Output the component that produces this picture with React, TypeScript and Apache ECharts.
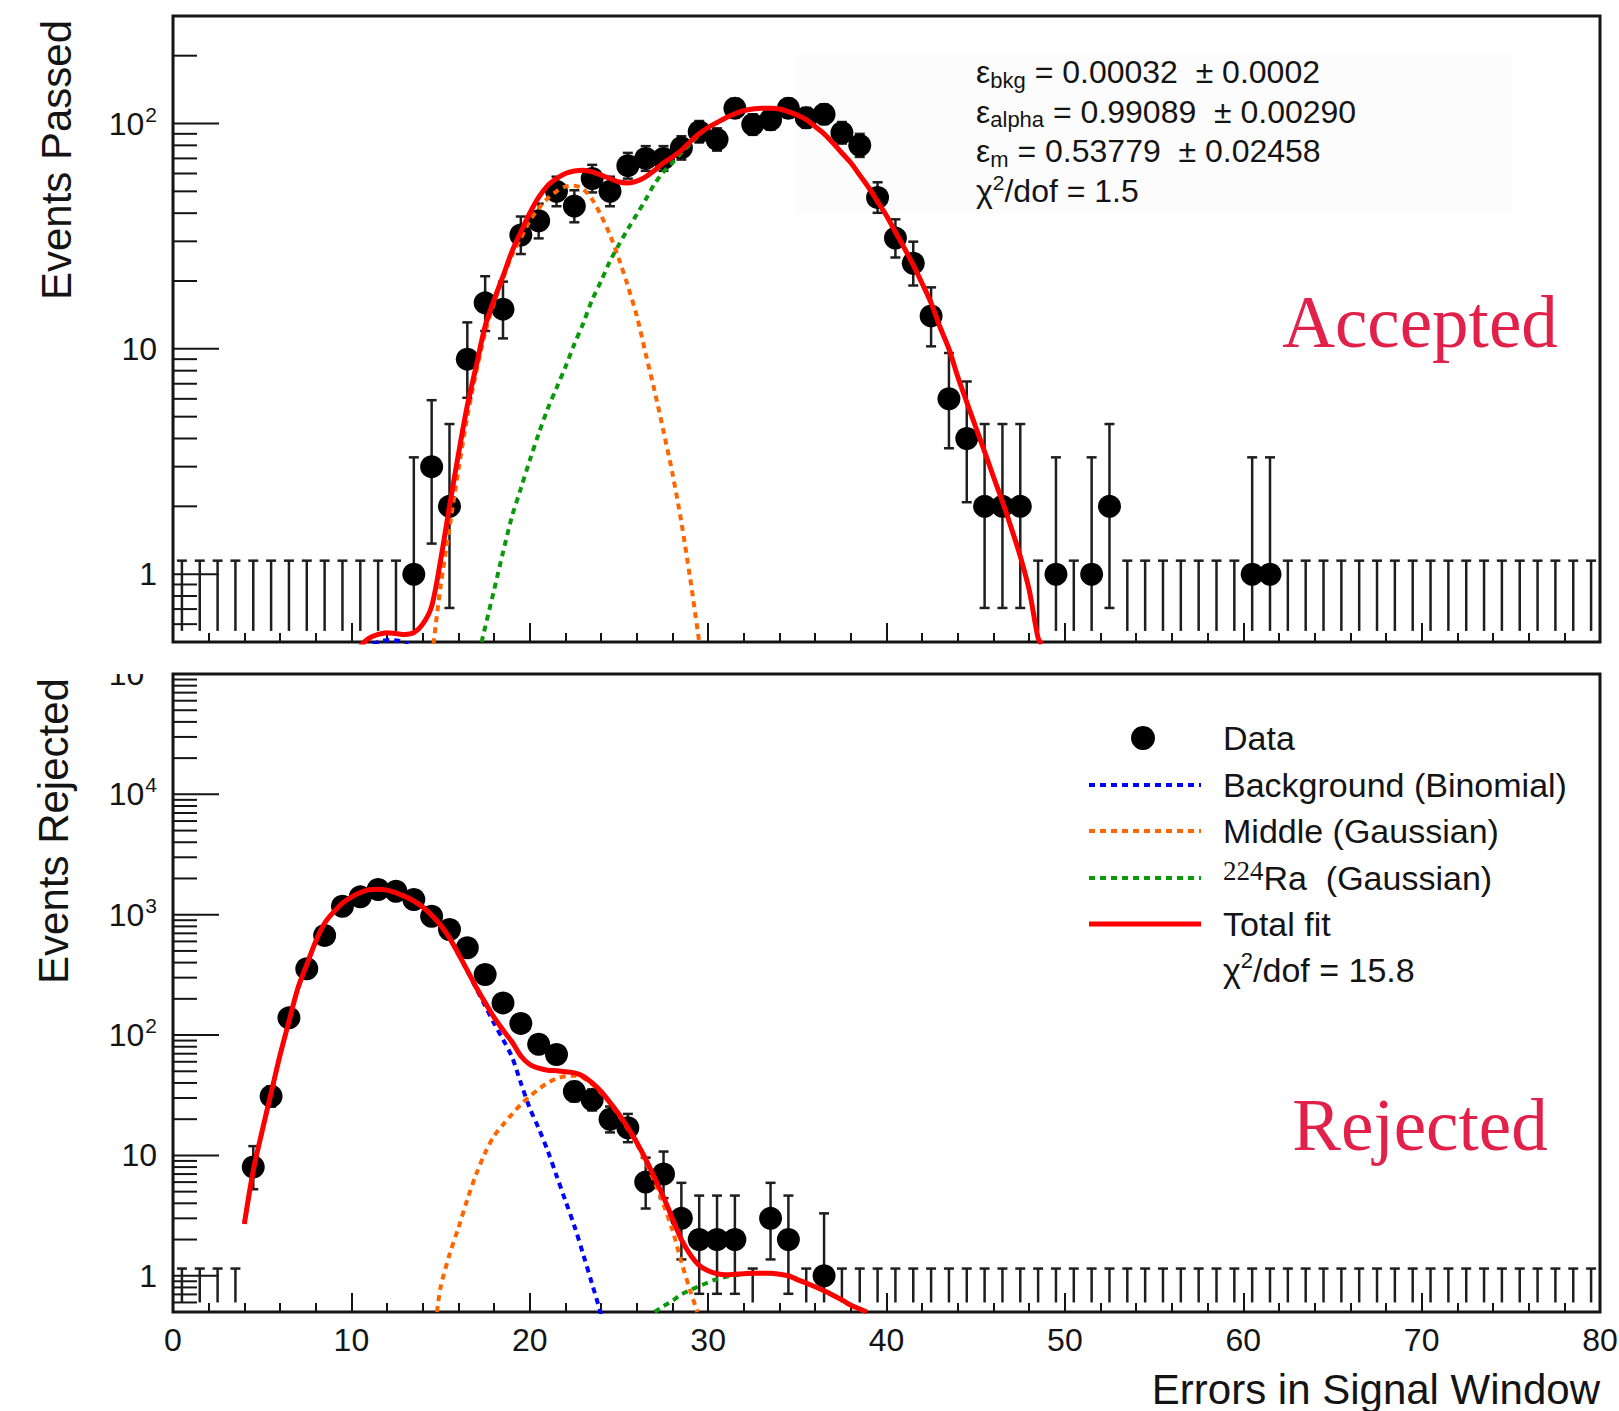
import React, { useEffect, useRef } from "react";
import * as echarts from "echarts";

// ---------------- data ----------------
const binCenters: number[] = [];
for (let i = 0; i < 80; i++) binCenters.push(i + 0.5);

const passedCounts = [
  0, 0, 0, 0, 0, 0, 0, 0, 0, 0,
  0, 0, 0, 1, 3, 2, 9, 16, 15, 32,
  37, 50, 43, 57, 50, 65, 70, 70, 78, 92,
  85, 117, 99, 104, 117, 106, 110, 91, 80, 47,
  31, 24, 14, 6, 4, 2, 2, 2, 0, 1,
  0, 1, 2, 0, 0, 0, 0, 0, 0, 0,
  1, 1, 0, 0, 0, 0, 0, 0, 0, 0,
  0, 0, 0, 0, 0, 0, 0, 0, 0, 0,
];

const rejectedCounts = [
  0, 0, 0, 0, 8, 31, 139, 356, 673, 1177,
  1407, 1618, 1567, 1336, 972, 754, 532, 319, 185, 125,
  84, 69, 34, 29, 20, 17, 6, 7, 3, 2,
  2, 2, 0, 3, 2, 0, 1, 0, 0, 0,
  0, 0, 0, 0, 0, 0, 0, 0, 0, 0,
  0, 0, 0, 0, 0, 0, 0, 0, 0, 0,
  0, 0, 0, 0, 0, 0, 0, 0, 0, 0,
  0, 0, 0, 0, 0, 0, 0, 0, 0, 0,
];

// 68% Poisson intervals for small counts (RooFit style)
const poissonLow = [0, 0.173, 0.708, 1.367, 2.086, 2.84, 3.62, 4.42, 5.236, 6.064, 6.904];
const poissonHigh = [1.148, 3.3, 4.638, 5.918, 7.163, 8.382, 9.583, 10.768, 11.942, 13.106, 14.261];

const passedBackground = [[11.2, 0.49], [11.7, 0.505], [12.2, 0.51], [12.7, 0.505], [13.2, 0.49]];
const passedMiddle = [
  [14.6, 0.49], [15, 0.88], [15.5, 1.6], [16, 2.9], [16.5, 5.0], [17, 7.9], [17.5, 11.8], [18, 16],
  [18.5, 20.5], [19, 26], [19.5, 31], [20, 37], [20.5, 42], [21, 46.5], [21.5, 50], [22, 52.5],
  [22.5, 53], [23, 51], [23.5, 46], [24, 39], [24.5, 32], [25, 25], [25.5, 19], [26, 14],
  [26.5, 9.5], [27, 6.5], [27.5, 4.3], [28, 2.8], [28.5, 1.7], [29, 0.95], [29.5, 0.5],
];
const passedRa = [
  [17.3, 0.5], [18, 0.85], [18.5, 1.25], [19, 1.8], [19.5, 2.4], [20, 3.2], [20.5, 4.2], [21, 5.4],
  [21.5, 6.7], [22, 8.3], [22.5, 10.5], [23, 13], [23.5, 16.5], [24, 20], [24.5, 24.5], [25, 29],
  [25.5, 34], [26, 39.5], [26.5, 46], [27, 54], [27.5, 61], [28, 67], [28.5, 74], [29, 81],
  [29.5, 89], [30, 96], [30.5, 101], [31, 106], [31.5, 110.5], [32, 114], [32.5, 116], [33, 117],
  [33.5, 117], [34, 116], [34.5, 113], [35, 109], [35.5, 104], [36, 97], [36.5, 90], [37, 82],
  [37.5, 74], [38, 67], [38.5, 59], [39, 52], [39.5, 45], [40, 39], [40.5, 33], [41, 28],
  [41.5, 23.5], [42, 19.5], [42.5, 16], [43, 12.5], [43.5, 10], [44, 7.5], [44.5, 5.8], [45, 4.5],
  [45.5, 3.5], [46, 2.7], [46.5, 2.1], [47, 1.6], [47.5, 1.2], [48, 0.85], [48.5, 0.52], [48.7, 0.49],
];
const passedTotal = [
  [10.5, 0.48], [11, 0.52], [11.5, 0.54], [12, 0.55], [12.5, 0.545], [13, 0.54], [13.5, 0.55], [14, 0.6],
  [14.5, 0.72], [15, 1.15], [15.5, 2.0], [16, 3.4], [16.5, 5.6], [17, 8.4], [17.5, 12.6], [18, 16.5],
  [18.5, 21], [19, 27], [19.5, 33], [20, 40], [20.5, 47], [21, 53], [21.5, 57], [22, 60],
  [22.5, 61.5], [23, 62], [23.5, 61], [24, 59], [24.5, 57], [25, 55], [25.5, 54.5], [26, 55.5],
  [26.5, 58], [27, 62], [27.5, 67], [28, 71], [28.5, 76], [29, 83], [29.5, 90], [30, 96],
  [30.5, 101], [31, 106], [31.5, 110.5], [32, 114], [32.5, 116], [33, 117], [33.5, 117], [34, 116],
  [34.5, 113], [35, 109], [35.5, 104], [36, 97], [36.5, 90], [37, 82], [37.5, 74], [38, 67],
  [38.5, 59], [39, 52], [39.5, 45], [40, 39], [40.5, 33], [41, 28], [41.5, 23.5], [42, 19.5],
  [42.5, 16], [43, 12.5], [43.5, 10], [44, 7.5], [44.5, 5.8], [45, 4.5], [45.5, 3.5], [46, 2.7],
  [46.5, 2.1], [47, 1.6], [47.5, 1.2], [48, 0.85], [48.5, 0.52], [48.7, 0.49],
];

const rejectedBackground = [
  [4, 2.7], [4.5, 7.5], [5, 16], [5.5, 33], [6, 68], [6.5, 130], [7, 245], [7.5, 385],
  [8, 600], [8.5, 850], [9, 1050], [9.5, 1250], [10, 1400], [10.5, 1530], [11, 1610], [11.5, 1630],
  [12, 1600], [12.5, 1520], [13, 1420], [13.5, 1300], [14, 1160], [14.5, 990], [15, 820], [15.5, 640],
  [16, 470], [16.5, 340], [17, 243], [17.5, 175], [18, 125], [18.5, 92], [19, 66], [19.5, 40],
  [20, 24.7], [20.5, 16.8], [21, 11], [21.5, 6.8], [22, 4.2], [22.5, 2.6], [23, 1.5], [23.5, 0.85],
  [24, 0.48],
];
const rejectedMiddle = [
  [14.8, 0.5], [15, 0.8], [15.5, 1.5], [16, 2.5], [16.5, 4.3], [17, 7], [17.5, 10.5], [18, 14.5],
  [18.5, 18], [19, 22], [19.5, 26.5], [20, 31], [20.5, 35.5], [21, 40], [21.5, 43.5], [22, 45.5],
  [22.5, 46], [23, 44], [23.5, 39], [24, 33], [24.5, 27], [25, 21.5], [25.5, 16.5], [26, 12.5],
  [26.5, 8.8], [27, 6.0], [27.5, 3.9], [28, 2.4], [28.5, 1.3], [29, 0.75], [29.4, 0.5],
];
const rejectedRa = [
  [27, 0.5], [27.5, 0.56], [28, 0.62], [28.5, 0.7], [29, 0.76], [29.5, 0.82], [30, 0.88], [30.5, 0.94],
  [31, 0.98], [31.5, 1.01], [32, 1.03], [32.5, 1.05], [33, 1.05], [33.5, 1.05], [34, 1.03], [34.5, 1.0],
  [35, 0.93], [35.5, 0.87], [36, 0.81], [36.5, 0.75], [37, 0.69], [37.5, 0.63], [38, 0.57], [38.5, 0.53],
  [38.9, 0.5],
];
const rejectedTotal = [
  [4, 2.7], [4.5, 7.5], [5, 16], [5.5, 33], [6, 68], [6.5, 130], [7, 245], [7.5, 385],
  [8, 600], [8.5, 850], [9, 1050], [9.5, 1250], [10, 1400], [10.5, 1530], [11, 1610], [11.5, 1630],
  [12, 1600], [12.5, 1520], [13, 1420], [13.5, 1300], [14, 1160], [14.5, 990], [15, 820], [15.5, 642],
  [16, 473], [16.5, 345], [17, 250], [17.5, 186], [18, 140], [18.5, 110], [19, 88], [19.5, 67],
  [20, 57], [20.5, 53], [21, 51], [21.5, 50.5], [22, 49.5], [22.5, 48.5], [23, 45.5], [23.5, 40],
  [24, 34], [24.5, 27.5], [25, 22], [25.5, 17], [26, 12.8], [26.5, 9.3], [27, 6.5], [27.5, 4.5],
  [28, 3.0], [28.5, 2.0], [29, 1.5], [29.5, 1.22], [30, 1.1], [30.5, 1.04], [31, 1.02], [31.5, 1.03],
  [32, 1.04], [32.5, 1.05], [33, 1.05], [33.5, 1.05], [34, 1.03], [34.5, 1.0], [35, 0.93], [35.5, 0.87],
  [36, 0.81], [36.5, 0.75], [37, 0.69], [37.5, 0.63], [38, 0.57], [38.5, 0.53], [38.9, 0.5],
];

const passedRange = [0.5, 300];
const rejectedRange = [0.5, 100000];
const passedBarFloor = 0.56;
const rejectedBarFloor = 0.6;

const statsLines = [
  "{m|ε}{sub|bkg}{m| = 0.00032  ± 0.0002}",
  "{m|ε}{sub|alpha}{m| = 0.99089  ± 0.00290}",
  "{m|ε}{sub|m}{m| = 0.53779  ± 0.02458}",
  "{m|χ}{sup|2}{m|/dof = 1.5}",
];
const legendLabels = [
  "{m|Data}",
  "{m|Background (Binomial)}",
  "{m|Middle (Gaussian)}",
  "{ser|224}{m|Ra  (Gaussian)}",
  "{m|Total fit}",
  "{m|χ}{sup|2}{m|/dof = 15.8}",
];

// ---------------- styles ----------------
const FONT = "'Liberation Sans', Arial, Helvetica, sans-serif";
const SERIF = "'Liberation Serif', 'Times New Roman', serif";
const INK = "#141414";
const RED = "#ff0000";
const BLUE = "#0000ff";
const ORANGE = "#ff6600";
const GREEN = "#0a990a";
const CRIMSON = "#e2214b";
const DOT = [6, 5];

function poisson(n: number): [number, number] {
  if (n <= 10) return [poissonLow[n], poissonHigh[n]];
  return [n - Math.sqrt(n), n + Math.sqrt(n) + 1];
}

function errorData(counts: number[], floor: number) {
  return counts.map((n, i) => {
    const [lo, hi] = poisson(n);
    return [binCenters[i], Math.max(lo, floor), hi, lo > floor ? 1 : 0];
  });
}

function pointData(counts: number[]) {
  const out: number[][] = [];
  counts.forEach((n, i) => {
    if (n > 0) out.push([binCenters[i], n]);
  });
  return out;
}

function logTicks(lo: number, hi: number) {
  const out: number[][] = [];
  for (let e = -1; e <= 6; e++) {
    for (let k = 1; k <= 9; k++) {
      const v = k * Math.pow(10, e);
      if (v > lo * 1.001 && v < hi * 0.999) out.push([0, v, k === 1 ? 1 : 0]);
    }
  }
  return out;
}

const renderErr = (_p: any, api: any) => {
  const x = api.value(0);
  const a = api.coord([x, api.value(1)]);
  const b = api.coord([x, api.value(2)]);
  const st = { stroke: "#1e1e1e", lineWidth: 2.5 };
  const kids: any[] = [
    { type: "line", shape: { x1: a[0], y1: a[1], x2: b[0], y2: b[1] }, style: st },
    { type: "line", shape: { x1: b[0] - 5, y1: b[1], x2: b[0] + 5, y2: b[1] }, style: st },
  ];
  if (api.value(3)) kids.push({ type: "line", shape: { x1: a[0] - 5, y1: a[1], x2: a[0] + 5, y2: a[1] }, style: st });
  return { type: "group", children: kids };
};

const renderTick = (_p: any, api: any) => {
  const p = api.coord([0, api.value(1)]);
  const len = api.value(2) ? 46 : 24;
  return { type: "line", shape: { x1: p[0], y1: p[1], x2: p[0] + len, y2: p[1] }, style: { stroke: INK, lineWidth: 2 } };
};

const logLabel = (v: number) => {
  const l = Math.log10(v);
  const e = Math.round(l);
  if (Math.abs(l - e) > 1e-6) return "";
  if (e === 0) return "{b|1}";
  if (e === 1) return "{b|10}";
  return "{b|10}{s|" + e + "}";
};

function xAxis(gi: number) {
  return {
    type: "value", gridIndex: gi, min: 0, max: 80, interval: 10,
    axisLine: { show: false }, splitLine: { show: false },
    axisTick: { show: true, inside: true, length: 19, lineStyle: { color: INK, width: 2 } },
    minorTick: { show: true, splitNumber: 5, length: 9, lineStyle: { color: INK, width: 2 } },
    axisLabel: { show: gi === 1, fontSize: 32, margin: 12, color: INK, fontFamily: FONT },
  };
}

function yAxis(gi: number, range: number[]) {
  return {
    type: "log", logBase: 10, gridIndex: gi, min: range[0], max: range[1],
    axisLine: { show: false }, axisTick: { show: false }, splitLine: { show: false }, minorTick: { show: false },
    axisLabel: {
      formatter: logLabel, margin: 16, color: INK, fontFamily: FONT,
      rich: {
        b: { fontSize: 32, fontFamily: FONT, color: INK, lineHeight: 40 },
        s: { fontSize: 21, fontFamily: FONT, color: INK, lineHeight: 10, verticalAlign: "top", padding: [0, 0, 0, 1] },
      },
    },
  };
}

function curve(data: number[][], color: string, dotted: boolean, gi: number, z: number) {
  return {
    type: "line", xAxisIndex: gi, yAxisIndex: gi, data, showSymbol: false, symbol: "none",
    smooth: 0.3, silent: true, clip: true, z,
    lineStyle: { color, width: dotted ? 4 : 5, type: dotted ? DOT : "solid", cap: "butt", opacity: 1 },
  };
}

function panelSeries(gi: number, counts: number[], floor: number, range: number[], curves: number[][][]) {
  return [
    {
      type: "custom", xAxisIndex: gi, yAxisIndex: gi, renderItem: renderTick, silent: true,
      data: logTicks(range[0], range[1]), encode: { x: 0, y: 1 }, z: 3,
    },
    {
      type: "custom", xAxisIndex: gi, yAxisIndex: gi, renderItem: renderErr, silent: true,
      data: errorData(counts, floor), encode: { x: 0, y: [1, 2] }, z: 4,
    },
    {
      type: "scatter", xAxisIndex: gi, yAxisIndex: gi, data: pointData(counts), symbol: "circle",
      symbolSize: 23, itemStyle: { color: "#000", opacity: 1 }, silent: true, z: 5,
    },
    curve(curves[0], BLUE, true, gi, 6),
    curve(curves[1], ORANGE, true, gi, 7),
    curve(curves[2], GREEN, true, gi, 8),
    curve(curves[3], RED, false, gi, 9),
  ];
}

const statsY = [72, 111.5, 151, 191];
const legendY = [738, 785, 831, 878, 924, 970];
const legendColors = ["", BLUE, ORANGE, GREEN, RED];

const textRich = {
  m: { fontFamily: FONT, fontSize: 32, fill: INK, lineHeight: 38 },
  sub: { fontFamily: FONT, fontSize: 22, fill: INK, lineHeight: 8, verticalAlign: "bottom" },
  sup: { fontFamily: FONT, fontSize: 21, fill: INK, lineHeight: 12, verticalAlign: "top" },
};
const legendRich = {
  m: { fontFamily: FONT, fontSize: 34, fill: INK, lineHeight: 42 },
  sup: { fontFamily: FONT, fontSize: 22, fill: INK, lineHeight: 14, verticalAlign: "top" },
  ser: { fontFamily: SERIF, fontSize: 27, fill: INK, lineHeight: 12, verticalAlign: "top" },
};

function buildGraphic() {
  const g: any[] = [];
  g.push({ type: "rect", z: -1, silent: true, shape: { x: 795, y: 54, width: 718, height: 160 }, style: { fill: "#fcfcfc" } });
  statsLines.forEach((t, i) => {
    g.push({ type: "text", z: 100, x: 976, y: statsY[i], style: { text: t, rich: textRich, fill: INK, align: "left", verticalAlign: "middle" } });
  });
  g.push({ type: "circle", z: 100, shape: { cx: 1143, cy: legendY[0], r: 12 }, style: { fill: "#000" } });
  for (let i = 1; i <= 4; i++) {
    g.push({
      type: "line", z: 100, shape: { x1: 1089, y1: legendY[i], x2: 1201, y2: legendY[i] },
      style: { stroke: legendColors[i], lineWidth: i === 4 ? 5 : 4, lineDash: i === 4 ? null : DOT },
    });
  }
  legendLabels.forEach((t, i) => {
    g.push({ type: "text", z: 100, x: 1223, y: legendY[i], style: { text: t, rich: legendRich, fill: INK, align: "left", verticalAlign: "middle" } });
  });
  g.push({ type: "text", z: 100, x: 1420, y: 322, style: { text: "Accepted", fontFamily: SERIF, fontSize: 73, fill: CRIMSON, align: "center", verticalAlign: "middle" } });
  g.push({ type: "text", z: 100, x: 1420, y: 1125, style: { text: "Rejected", fontFamily: SERIF, fontSize: 73, fill: CRIMSON, align: "center", verticalAlign: "middle" } });
  g.push({ type: "text", z: 100, x: 56, y: 160, rotation: Math.PI / 2, style: { text: "Events Passed", fontFamily: FONT, fontSize: 42, fill: INK, align: "center", verticalAlign: "middle" } });
  g.push({ type: "text", z: 100, x: 53, y: 831, rotation: Math.PI / 2, style: { text: "Events Rejected", fontFamily: FONT, fontSize: 42, fill: INK, align: "center", verticalAlign: "middle" } });
  g.push({ type: "text", z: 100, x: 1600, y: 1389, style: { text: "Errors in Signal Window", fontFamily: FONT, fontSize: 42, fill: INK, align: "right", verticalAlign: "middle" } });
  // the top decade label of the lower pad is cut by the upper pad
  g.push({ type: "rect", z: 90, silent: true, shape: { x: 70, y: 644, width: 99, height: 30 }, style: { fill: "#fff" } });
  return g;
}

export default function App() {
  const ref = useRef<HTMLDivElement>(null);
  useEffect(() => {
    document.body.style.margin = "0";
    const chart = echarts.init(ref.current as HTMLDivElement, null, { renderer: "svg" });
    const option: any = {
      animation: false,
      backgroundColor: "#fff",
      textStyle: { fontFamily: FONT },
      grid: [
        { left: 173, right: 19, top: 16, height: 626, show: true, borderColor: INK, borderWidth: 3, backgroundColor: "transparent", containLabel: false, outerBoundsMode: "none" },
        { left: 173, right: 19, top: 674, height: 638, show: true, borderColor: INK, borderWidth: 3, backgroundColor: "transparent", containLabel: false, outerBoundsMode: "none" },
      ],
      xAxis: [xAxis(0), xAxis(1)],
      yAxis: [yAxis(0, passedRange), yAxis(1, rejectedRange)],
      series: [
        ...panelSeries(0, passedCounts, passedBarFloor, passedRange, [passedBackground, passedMiddle, passedRa, passedTotal]),
        ...panelSeries(1, rejectedCounts, rejectedBarFloor, rejectedRange, [rejectedBackground, rejectedMiddle, rejectedRa, rejectedTotal]),
      ],
      graphic: buildGraphic(),
    };
    chart.setOption(option);
    return () => chart.dispose();
  }, []);
  return <div ref={ref} style={{ width: 1619, height: 1411 }} />;
}
